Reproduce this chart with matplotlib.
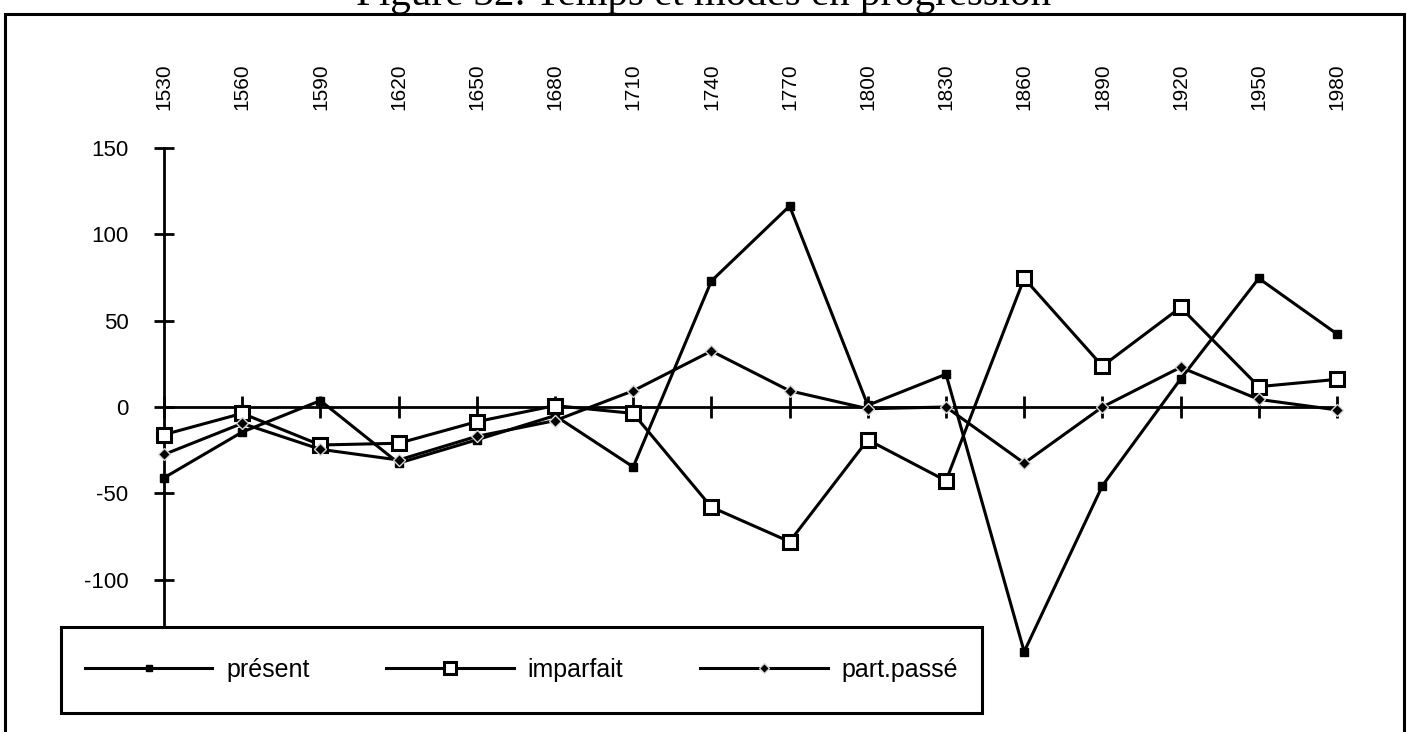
import matplotlib
matplotlib.use("Agg")
import matplotlib.pyplot as plt
from matplotlib.patches import Rectangle

# categories (years) and the three series
years = [1530, 1560, 1590, 1620, 1650, 1680, 1710, 1740,
         1770, 1800, 1830, 1860, 1890, 1920, 1950, 1980]
present = [-41, -14.5, 3.7, -32.5, -19, -5, -34.7, 73,
           116.4, 1, 19, -141.7, -45.6, 16.2, 74.5, 42.3]
imparfait = [-16, -3.7, -22, -21, -8.5, 0.8, -3.7, -58,
             -78, -19, -42.7, 74.5, 23.7, 57.7, 11.8, 16]
part_passe = [-27.5, -9.5, -24.5, -30.7, -17, -7.9, 9.4, 32.4,
              9.4, -1, 0, -32.5, 0, 23, 4.4, -1.7]
labels = ["présent", "imparfait", "part.passé"]

plt.rcParams['font.family'] = ['Liberation Sans', 'DejaVu Sans']
plt.rcParams['axes.unicode_minus'] = False

W, H = 1407, 732
fig = plt.figure(figsize=(W / 100, H / 100), dpi=100)
ax = fig.add_axes([164 / W, 66 / H, 1173 / W, 518 / H])

x = list(range(len(years)))
l1, = ax.plot(x, present, color='black', lw=2.2, marker='s', ms=5.5,
              mfc='black', mec='black', clip_on=False, zorder=3)
l2, = ax.plot(x, imparfait, color='black', lw=2.2, marker='s', ms=10,
              mfc='white', mec='black', mew=2.2, clip_on=False, zorder=3)
l3, = ax.plot(x, part_passe, color='black', lw=2.2, marker='D', ms=6.5,
              mfc='black', mec='#d8d8d8', mew=1, clip_on=False, zorder=3)

ax.set_xlim(0, len(years) - 1)
ax.set_ylim(-150, 150)
for s in ['top', 'right']:
    ax.spines[s].set_visible(False)
ax.spines['bottom'].set_position(('data', 0))
ax.spines['bottom'].set_linewidth(2)
ax.spines['left'].set_linewidth(2)

ax.set_yticks(range(-150, 151, 50))
ax.set_xticks(x)
ax.set_xticklabels([str(y) for y in years])
ax.tick_params(axis='y', direction='inout', length=15, width=2, pad=18,
               labelsize=16)
ax.tick_params(axis='x', direction='inout', length=16, width=2, top=False,
               labeltop=True, labelbottom=False, labelrotation=90, pad=19.5,
               labelsize=15)

# title, cut at the top like the scan
fig.text(0.5, 1 - 5 / H, "Figure 32: Temps et modes en progression",
         family='Liberation Serif', fontsize=29.5, ha='center', va='baseline')

# outer frame
fig.patches.append(Rectangle((5 / W, -0.02), (1404 - 5) / W, (H - 14) / H + 0.02,
                             transform=fig.transFigure, fill=False,
                             lw=2.2, ec='black', zorder=4))

# legend box
box = (61 / W, 19 / H, 921 / W, 86 / H)
fig.patches.append(Rectangle(box[:2], box[2], box[3], transform=fig.transFigure,
                             fc='white', ec='black', lw=2.2, zorder=4))
fig.legend([l1, l2, l3], labels, loc='center', bbox_to_anchor=box,
           ncol=3, mode='expand', frameon=False, fontsize=18,
           handlelength=5.1, handletextpad=0.55, borderpad=0.65,
           borderaxespad=0.3, markerscale=0.8)

fig.savefig("out.png", dpi=100)
